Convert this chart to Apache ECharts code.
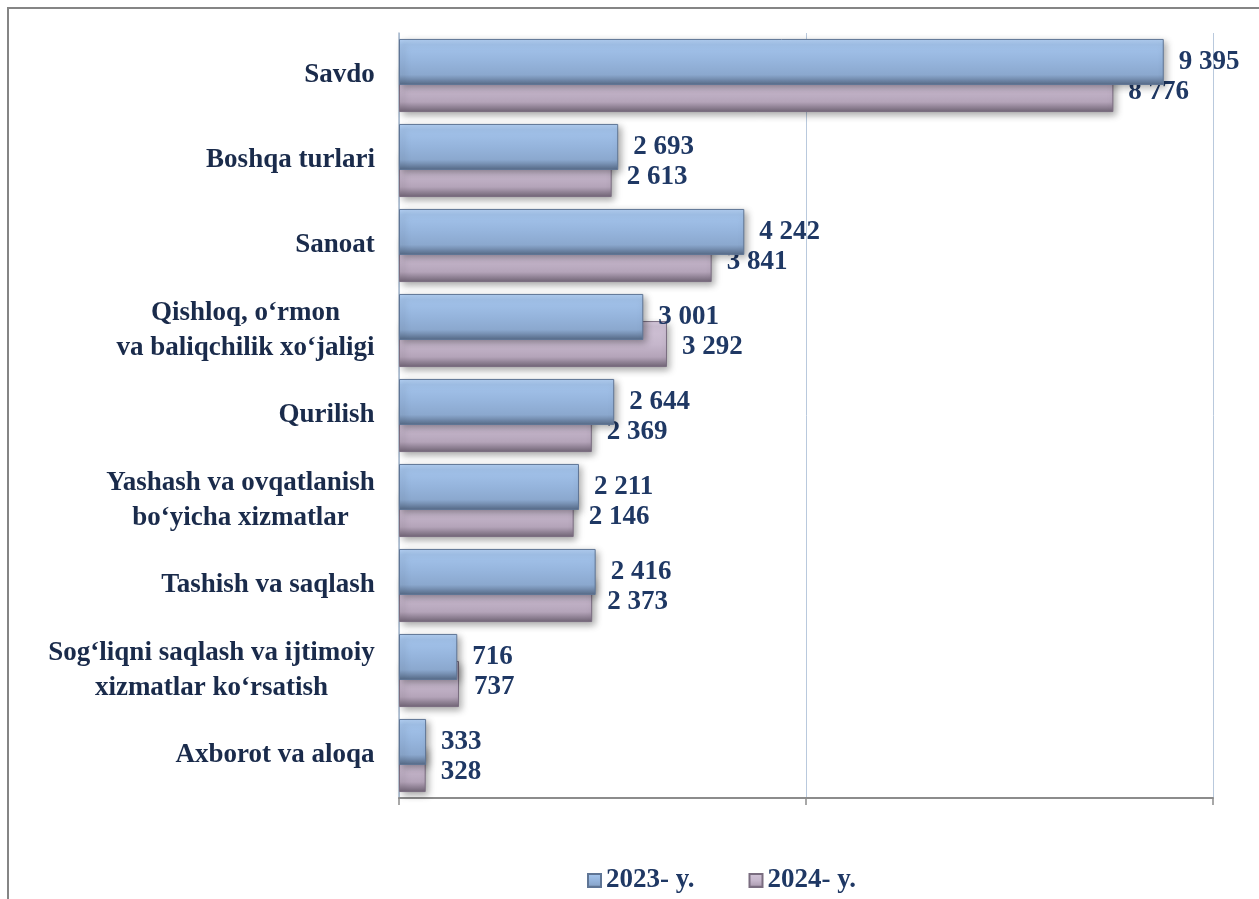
<!DOCTYPE html>
<html>
<head>
<meta charset="utf-8">
<script src="https://cdn.jsdelivr.net/npm/echarts@6/dist/echarts.min.js"></script>
<style>
  html, body { margin: 0; padding: 0; background: #fff; }
  #chart { width: 1259px; height: 899px; }
</style>
</head>
<body>
<div id="chart"></div>
<script>
// categories, top to bottom
const categories = [
  "Savdo",
  "Boshqa turlari",
  "Sanoat",
  "Qishloq, o‘rmon\nva baliqchilik xo‘jaligi",
  "Qurilish",
  "Yashash va ovqatlanish\nbo‘yicha xizmatlar",
  "Tashish va saqlash",
  "Sog‘liqni saqlash va ijtimoiy\nxizmatlar ko‘rsatish",
  "Axborot va aloqa"
];
const seriesNames = ["2023- y.", "2024- y."];
const values2023 = [9395, 2693, 4242, 3001, 2644, 2211, 2416, 716, 333];
const values2024 = [8776, 2613, 3841, 3292, 2369, 2146, 2373, 737, 328];

const fontFamily = '"Liberation Serif", "Times New Roman", serif';
const fontSize = 27;
const labelColor = "#1a2b4b";
const valueColor = "#1f3864";

// multi-line category labels: lines centred inside a right-aligned block
const ctx = document.createElement("canvas").getContext("2d");
ctx.font = "bold " + fontSize + "px " + fontFamily;
let rich = {};
categories.forEach((c, i) => {
  let w = Math.max(...c.split("\n").map((l) => ctx.measureText(l).width));
  rich["c" + i] = {
    width: Math.ceil(w) + 2,
    align: "center",
    fontSize: fontSize,
    fontWeight: "bold",
    fontFamily: fontFamily,
    color: labelColor,
    lineHeight: 35,
  };
});

const fmt = (v) => String(v).replace(/\B(?=(\d{3})+(?!\d))/g, " ");

const blue = new echarts.graphic.LinearGradient(0, 0, 0, 1, [
  { offset: 0, color: "#b5d2f5" },
  { offset: 0.12, color: "#a3c3eb" },
  { offset: 0.5, color: "#95b4dc" },
  { offset: 0.78, color: "#8ba8ce" },
  { offset: 0.9, color: "#6f87a8" },
  { offset: 1, color: "#566a87" },
]);
const pink = new echarts.graphic.LinearGradient(0, 0, 0, 1, [
  { offset: 0, color: "#d9cce0" },
  { offset: 0.12, color: "#cfc1d5" },
  { offset: 0.5, color: "#c6b7cc" },
  { offset: 0.78, color: "#b4a4b9" },
  { offset: 0.9, color: "#8f8194" },
  { offset: 1, color: "#726577" },
]);

var myChart = echarts.init(document.getElementById("chart"));
var option = {
  animation: false,
  backgroundColor: "#ffffff",
  graphic: [
    {
      type: "rect",
      shape: { x: 8, y: 8, width: 1400, height: 1000 },
      style: { fill: "none", stroke: "#858585", lineWidth: 2 },
      silent: true,
    },
  ],
  grid: {
    left: 399,
    right: 46,
    top: 33,
    bottom: 101,
    containLabel: false,
  },
  legend: {
    left: 582,
    top: 862,
    itemWidth: 13,
    itemHeight: 13,
    itemGap: 54,
    icon: "rect",
    textStyle: {
      fontFamily: fontFamily,
      fontSize: fontSize,
      fontWeight: "bold",
      color: valueColor,
    },
    data: seriesNames,
  },
  xAxis: {
    type: "value",
    min: 0,
    max: 10000,
    interval: 5000,
    axisLabel: { show: false },
    axisLine: { show: true, lineStyle: { color: "#8c8c8c", width: 2 } },
    axisTick: { show: true, length: 7, lineStyle: { color: "#8c8c8c", width: 1.5 } },
    splitLine: { show: true, lineStyle: { color: "#b9c9dd", width: 1 } },
  },
  yAxis: {
    type: "category",
    inverse: true,
    data: categories,
    axisLine: { show: true, lineStyle: { color: "#a9b9cd", width: 1.5 } },
    axisTick: { show: false },
    axisLabel: {
      margin: 23,
      formatter: (v, i) =>
        v.split("\n").map((l) => "{c" + i + "|" + l + "}").join("\n"),
      rich: rich,
    },
  },
  series: [
    {
      name: seriesNames[0],
      type: "bar",
      z: 3,
      barCategoryGap: "14%",
      barGap: "-41%",
      data: values2023,
      itemStyle: {
        color: blue,
        borderColor: "#5f7595",
        borderWidth: 1,
        shadowBlur: 7,
        shadowOffsetX: 3,
        shadowOffsetY: 3,
        shadowColor: "rgba(0,0,0,0.35)",
      },
      label: {
        show: true,
        position: "right",
        distance: 15,
        formatter: (p) => fmt(p.value),
        fontFamily: fontFamily,
        fontSize: fontSize,
        fontWeight: "bold",
        color: valueColor,
      },
    },
    {
      name: seriesNames[1],
      type: "bar",
      z: 2,
      data: values2024,
      itemStyle: {
        color: pink,
        borderColor: "#7a6d80",
        borderWidth: 1,
        shadowBlur: 7,
        shadowOffsetX: 3,
        shadowOffsetY: 3,
        shadowColor: "rgba(0,0,0,0.35)",
      },
      label: {
        show: true,
        position: "right",
        distance: 15,
        offset: [0, 3],
        formatter: (p) => fmt(p.value),
        fontFamily: fontFamily,
        fontSize: fontSize,
        fontWeight: "bold",
        color: valueColor,
      },
    },
  ],
};
myChart.setOption(option);
</script>
</body>
</html>
